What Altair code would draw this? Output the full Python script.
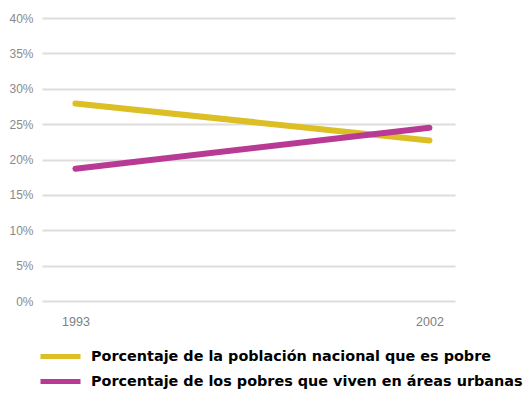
import altair as alt
import pandas as pd

years = [1993, 2002]
series_names = [
    "Porcentaje de la población nacional que es pobre",
    "Porcentaje de los pobres que viven en áreas urbanas",
]
national_poor = [27.9, 22.7]
urban_poor = [18.7, 24.5]
colors = ["#DBBF24", "#B93A95"]

rows = []
for y, v in zip(years, national_poor):
    rows.append({"year": y, "value": v, "series": series_names[0]})
for y, v in zip(years, urban_poor):
    rows.append({"year": y, "value": v, "series": series_names[1]})
df = pd.DataFrame(rows)

chart = alt.Chart(df).mark_line(strokeWidth=6, strokeCap="round").encode(
    x=alt.X("year:Q",
            scale=alt.Scale(domain=[1992.15, 2002.65], nice=False, zero=False),
            axis=alt.Axis(values=years, format="d", title=None, grid=False, domain=False,
                          ticks=False, labelPadding=14, labelColor="#808080", labelFontSize=12.5,
                          labelFont="Liberation Sans")),
    y=alt.Y("value:Q",
            scale=alt.Scale(domain=[0, 40], nice=False),
            axis=alt.Axis(values=list(range(0, 41, 5)), labelExpr="datum.value + '%'", title=None,
                          domain=False, ticks=False, labelPadding=9, gridColor="#dddddd",
                          gridWidth=2, labelColor="#8a8a8a", labelFontSize=12,
                          labelFont="Liberation Sans")),
    color=alt.Color("series:N",
                    scale=alt.Scale(domain=series_names, range=colors),
                    legend=alt.Legend(orient="none", legendX=6, legendY=326,
                                      title=None, symbolType="M-2,0L2,0", symbolSize=400,
                                      symbolStrokeWidth=5, labelFont="DejaVu Sans",
                                      labelFontWeight="bold", labelFontSize=14.4, labelColor="#000",
                                      rowPadding=2, labelOffset=18, labelLimit=600)),
).properties(
    width=413, height=283,
    autosize=alt.AutoSizeParams(type="none"),
    padding={"left": 42, "top": 18, "right": 69, "bottom": 92},
).configure_view(stroke=None)

chart.save("out.html", embed_options={"renderer": "svg", "actions": False})
